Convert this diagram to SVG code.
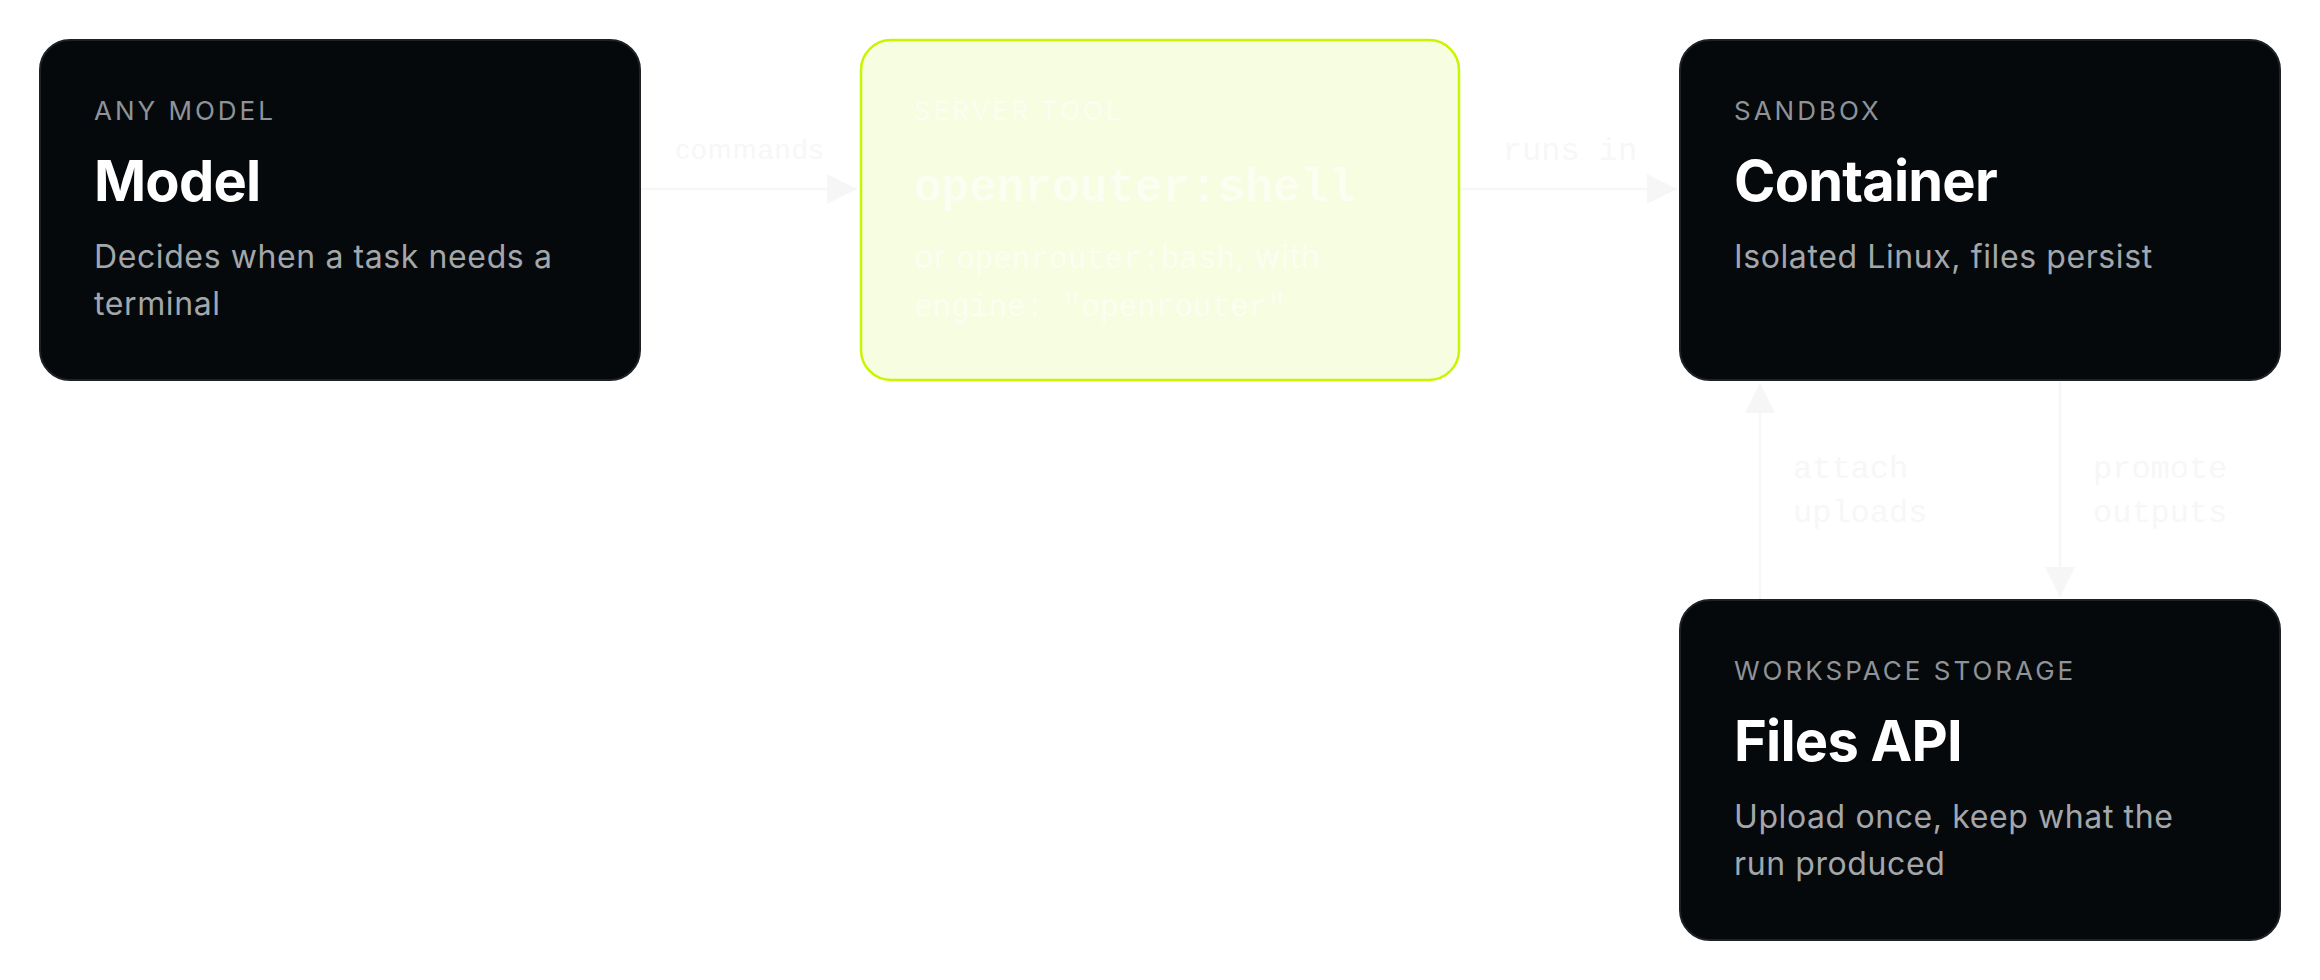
<svg xmlns="http://www.w3.org/2000/svg" width="2320" height="980" viewBox="0 0 2320 980">
<style>
.dark{fill:#05090c;stroke:#1e2226;stroke-width:2}
.tool{fill:#f6fde1;stroke:#c8f500;stroke-width:2.5}
.lbl{font-family:Inter,"Liberation Sans",sans-serif;font-size:26px;letter-spacing:3px;fill:#8f9398}
.ttl{font-family:Inter,"Liberation Sans",sans-serif;font-size:56px;font-weight:700;letter-spacing:-0.8px;fill:#ffffff}
.dsc{font-family:Inter,"Liberation Sans",sans-serif;font-size:32px;letter-spacing:0.6px;fill:#a3a7ab}
.mono{font-family:"Liberation Mono","DejaVu Sans Mono",monospace}
.tl{fill:#fbfef1}
.edge{stroke:#f7f7f7;stroke-width:2.5;fill:none}
.elbl{font-family:"Liberation Mono","DejaVu Sans Mono",monospace;font-size:32px;fill:#f7f7f7}
.elbls{font-family:"Liberation Sans",Arial,sans-serif;font-size:28px;letter-spacing:1.5px;fill:#f7f7f7}
</style>
<defs>
<marker id="ah" markerUnits="userSpaceOnUse" markerWidth="30" markerHeight="30" refX="30" refY="15" orient="auto">
<path d="M0,0 L30,15 L0,30 z" fill="#f6f6f6"/>
</marker>
</defs>
<rect width="2320" height="980" fill="#ffffff"/>
<g id="connectors">
<line class="edge" x1="640" y1="189" x2="857" y2="189" marker-end="url(#ah)"/>
<text class="elbls" x="750" y="159" text-anchor="middle">commands</text>
<line class="edge" x1="1460" y1="189" x2="1677" y2="189" marker-end="url(#ah)"/>
<text class="elbl" x="1570" y="160" text-anchor="middle">runs in</text>
<line class="edge" x1="1760" y1="600" x2="1760" y2="383" marker-end="url(#ah)"/>
<text class="elbl" x="1793" y="478">attach</text>
<text class="elbl" x="1793" y="522">uploads</text>
<line class="edge" x1="2060" y1="380" x2="2060" y2="597" marker-end="url(#ah)"/>
<text class="elbl" x="2093" y="478">promote</text>
<text class="elbl" x="2093" y="522">outputs</text>
</g>
<g id="node-model">
<rect class="dark" x="40" y="40" width="600" height="340" rx="30"/>
<text class="lbl" x="94" y="120">ANY MODEL</text>
<text class="ttl" x="94" y="201">Model</text>
<text class="dsc" x="94" y="268">Decides when a task needs a</text>
<text class="dsc" x="94" y="315">terminal</text>
</g>
<g id="node-tool">
<rect class="tool" x="861" y="40" width="598" height="340" rx="30"/>
<text class="lbl tl" x="914" y="120">SERVER TOOL</text>
<text class="mono tl" x="914" y="201" font-size="46" font-weight="700">openrouter:shell</text>
<text class="dsc tl" x="914" y="268">or <tspan class="mono" font-size="31" letter-spacing="0">openrouter:bash</tspan>, with</text>
<text class="mono tl" x="914" y="316" font-size="31">engine: "openrouter"</text>
</g>
<g id="node-container">
<rect class="dark" x="1680" y="40" width="600" height="340" rx="30"/>
<text class="lbl" x="1734" y="120">SANDBOX</text>
<text class="ttl" x="1734" y="201">Container</text>
<text class="dsc" x="1734" y="268">Isolated Linux, files persist</text>
</g>
<g id="node-files">
<rect class="dark" x="1680" y="600" width="600" height="340" rx="30"/>
<text class="lbl" x="1734" y="680">WORKSPACE STORAGE</text>
<text class="ttl" x="1734" y="761">Files API</text>
<text class="dsc" x="1734" y="828">Upload once, keep what the</text>
<text class="dsc" x="1734" y="875">run produced</text>
</g>
</svg>
